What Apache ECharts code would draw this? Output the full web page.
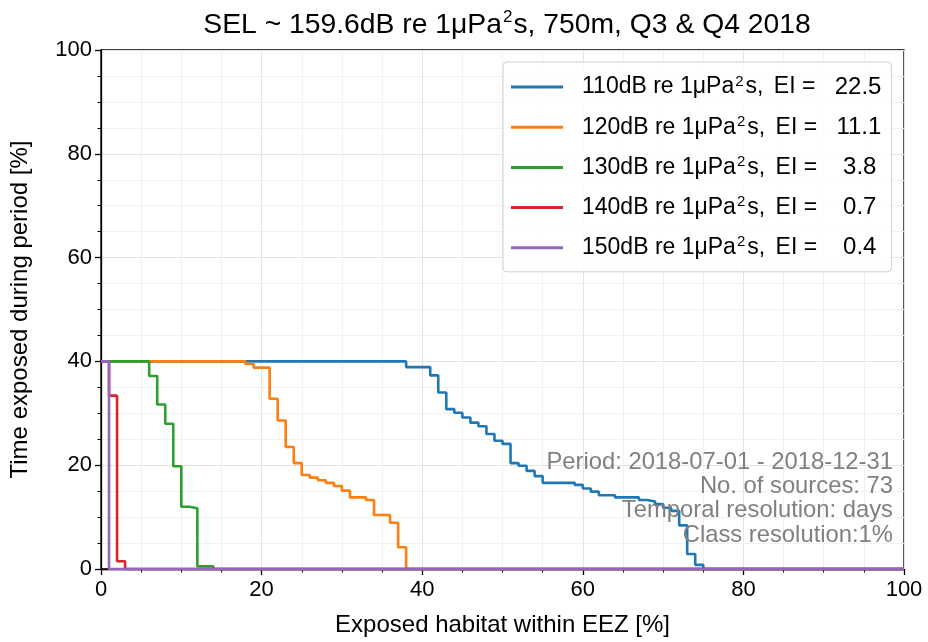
<!DOCTYPE html>
<html>
<head>
<meta charset="utf-8">
<script src="https://cdn.jsdelivr.net/npm/echarts@6/dist/echarts.min.js"></script>
<style>html,body{margin:0;padding:0;background:#fff}#c{width:928px;height:642px}</style>
</head>
<body>
<div id="c"></div>
<script>
// ---- data ----
const levels = [110, 120, 130, 140, 150];
const eiValues = ['22.5', '11.1', '3.8', '0.7', '0.4'];
const colors = ['#1f77b4', '#ff7f0e', '#2ca02c', '#d62728', '#9467bd'];

const blueX = [0,38,41,42,43,44,45,46,47,48,49,50,51,52,53,54,55,59,60,61,62,64,67,68,69,70,71,72,73,74,75,100];
const blueY = [40,38.9,37.3,34.0,30.8,30.1,29.2,28.2,27.5,26.0,24.7,24.1,20.4,19.9,18.9,17.9,16.6,16.2,15.5,14.9,14.2,13.8,13.3,13.0,12.5,11.8,11.2,8.4,2.9,0.8,0,0];
const orangeX = [0,18,19,21,22,23,24,25,26,27,28,29,30,31,33,34,36,37,38,100];
const orangeY = [40,39.5,38.8,32.8,28.6,23.5,20.4,18.1,17.6,17.1,16.6,16.0,15.1,13.8,13.3,10.4,8.9,4.2,0,0];
const greenX = [0,6,7,8,9,10,11,12,14,100];
const greenY = [40,37.2,31.7,28.0,19.8,12.0,11.7,0.5,0,0];
const redX = [0,1,2,3,100];
const redY = [40,33.4,1.5,0,0];
const purpleX = [0,1,100];
const purpleY = [40,0,0];

const seriesX = [blueX, orangeX, greenX, redX, purpleX];
const seriesY = [blueY, orangeY, greenY, redY, purpleY];

const annotationLines = [
  'Period: 2018-07-01 - 2018-12-31',
  'No. of sources: 73',
  'Temporal resolution: days',
  'Class resolution:1%'
];
const titleParts = ['SEL ~ 159.6dB re 1μPa', '2', 's, 750m, Q3 & Q4 2018'];
const xName = 'Exposed habitat within EEZ [%]';
const yName = 'Time exposed during period [%]';

// ---- chart ----
const FONT = '"Liberation Sans", Arial, sans-serif';
function pad(v) { return (' '.repeat(5) + v).slice(-5); }
const names = levels.map((l, i) => l + 'dB re 1μPa2s, EI = ' + pad(eiValues[i]));

const chart = echarts.init(document.getElementById('c'), null, {renderer: 'canvas'});
const option = {
  animation: false,
  backgroundColor: '#fff',
  textStyle: {fontFamily: FONT},
  title: {
    text: '{t|' + titleParts[0] + '}{s|' + titleParts[1] + '}{t|' + titleParts[2] + '}',
    left: 502, top: 4, textAlign: 'center',
    textStyle: {
      fontWeight: 'normal',
      rich: {
        t: {fontFamily: FONT, fontSize: 28.3, fontWeight: 'normal', color: '#000', lineHeight: 32},
        s: {fontFamily: FONT, fontSize: 17, fontWeight: 'normal', color: '#000', verticalAlign: 'top', lineHeight: 17, padding: [0, 1, 0, 1]}
      }
    }
  },
  grid: {left: 101, right: 24, top: 50, bottom: 71, show: true, borderColor: '#000', borderWidth: 1.3, containLabel: false},
  legend: {
    orient: 'vertical', left: 503, top: 62,
    padding: [12, 10, 12, 8],
    itemGap: 15.2,
    itemWidth: 52, itemHeight: 3, icon: 'rect',
    backgroundColor: 'rgba(255,255,255,0.85)',
    borderColor: '#d0d0d0', borderWidth: 1, borderRadius: 4,
    data: names,
    formatter: function (name) {
      const i = names.indexOf(name);
      return '{t|' + levels[i] + 'dB re 1μPa}{s|2}{t|s,}{c| EI =}{v| ' + pad(eiValues[i]) + '}';
    },
    textStyle: {
      padding: [0, 0, 0, 14],
      rich: {
        t: {fontFamily: FONT, fontSize: 23, color: '#000', lineHeight: 26},
        c: {fontFamily: FONT, fontSize: 23, color: '#000', lineHeight: 26, padding: [0, 0, 0, 4]},
        v: {fontFamily: FONT, fontSize: 24, color: '#000', lineHeight: 26, padding: [0, 0, 0, 6]},
        s: {fontFamily: FONT, fontSize: 15, color: '#000', verticalAlign: 'top', lineHeight: 15, padding: [0, 2, 0, 1]}
      }
    }
  },
  xAxis: {
    type: 'value', min: 0, max: 100, interval: 20,
    name: xName, nameLocation: 'middle', nameGap: 44,
    nameTextStyle: {fontFamily: FONT, fontSize: 24, color: '#000'},
    axisLine: {lineStyle: {color: '#000', width: 1.3}},
    axisTick: {show: true, length: 6, lineStyle: {color: '#000', width: 1.3}},
    minorTick: {show: true, splitNumber: 4, length: 3.5, lineStyle: {color: '#000', width: 1}},
    axisLabel: {fontFamily: FONT, fontSize: 22, color: '#000', margin: 10},
    splitLine: {show: true, lineStyle: {color: '#e4e4e4', width: 1}},
    minorSplitLine: {show: true, lineStyle: {color: '#f1f1f1', width: 1}}
  },
  yAxis: {
    type: 'value', min: 0, max: 100, interval: 20,
    name: yName, nameLocation: 'middle', nameGap: 69,
    nameTextStyle: {fontFamily: FONT, fontSize: 24, color: '#000'},
    axisLine: {show: true, lineStyle: {color: '#000', width: 1.3}},
    axisTick: {show: true, length: 6, lineStyle: {color: '#000', width: 1.3}},
    minorTick: {show: true, splitNumber: 4, length: 3.5, lineStyle: {color: '#000', width: 1}},
    axisLabel: {fontFamily: FONT, fontSize: 22, color: '#000', margin: 9},
    splitLine: {show: true, lineStyle: {color: '#e4e4e4', width: 1}},
    minorSplitLine: {show: true, lineStyle: {color: '#f1f1f1', width: 1}}
  },
  graphic: annotationLines.map((line, i) => ({
    type: 'text', right: 35, top: 450 + i * 24.4, z: 50,
    style: {
      text: line,
      font: '23.8px ' + FONT, fill: '#808080', align: 'right', lineHeight: 24
    }
  })),
  series: names.map((n, i) => ({
    name: n, type: 'line', step: 'end', showSymbol: false, symbol: 'none',
    color: colors[i],
    lineStyle: {color: colors[i], width: 2.6},
    z: 2 + i,
    clip: false,
    data: seriesX[i].map((x, k) => [x, seriesY[i][k]])
  }))
};
chart.setOption(option);
</script>
</body>
</html>
